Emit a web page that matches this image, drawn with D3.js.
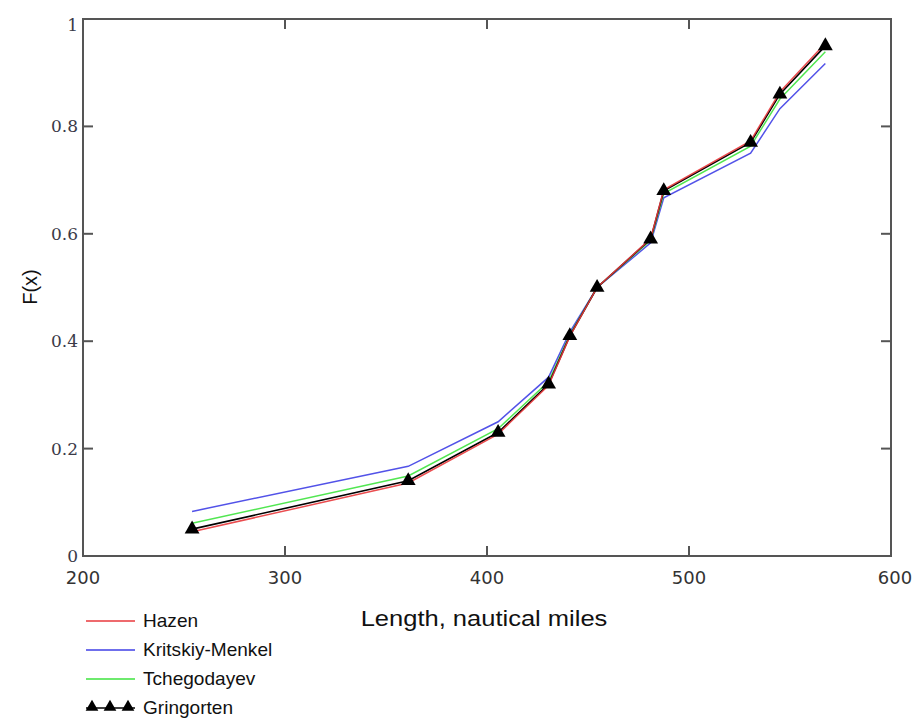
<!DOCTYPE html>
<html>
<head>
<meta charset="utf-8">
<script src="https://cdn.jsdelivr.net/npm/d3@7"></script>
<style>
  body { margin: 0; background: #fff; }
  svg { display: block; }
</style>
</head>
<body>
<svg id="chart" width="916" height="719"></svg>
<script>
"use strict";

// Lengths (nautical miles), sorted
const lengths = [254, 361, 405.5, 430.5, 441, 454.5, 481, 487.5, 530.5, 545, 567.5];

// Plotting positions
const hazen = [0.045, 0.136, 0.227, 0.318, 0.409, 0.500, 0.591, 0.682, 0.773, 0.864, 0.955];
const kritskiy = [0.083, 0.167, 0.250, 0.333, 0.417, 0.500, 0.583, 0.667, 0.750, 0.833, 0.917];
const tchegodayev = [0.061, 0.149, 0.237, 0.325, 0.412, 0.500, 0.588, 0.675, 0.763, 0.851, 0.939];
const gringorten = [0.050, 0.140, 0.230, 0.320, 0.410, 0.500, 0.590, 0.680, 0.770, 0.860, 0.950];

const xTicks = [200, 300, 400, 500, 600];
const yTicks = [0, 0.2, 0.4, 0.6, 0.8, 1];

const series = [
    { name: "Hazen", values: hazen, color: "#e8383c" },
    { name: "Kritskiy-Menkel", values: kritskiy, color: "#3f3fe6" },
    { name: "Tchegodayev", values: tchegodayev, color: "#3ee33e" },
    { name: "Gringorten", values: gringorten, color: "#000", markers: true }
];

(function () {
    const svg = d3.select("#chart");
    const left = 83, right = 891, top = 19, bottom = 556;

    const x = d3.scaleLinear().domain([200, 600]).range([left, right]);
    const y = d3.scaleLinear().domain([0, 1]).range([bottom, top]);

    const axisColor = "#555";
    const tickLen = 10;

    // frame
    svg.append("rect")
        .attr("x", left).attr("y", top)
        .attr("width", right - left).attr("height", bottom - top)
        .attr("fill", "none")
        .attr("stroke", axisColor)
        .attr("stroke-width", 2);

    // inner ticks on all four sides
    const ticks = svg.append("g").attr("stroke", axisColor).attr("stroke-width", 2);
    xTicks.slice(1, -1).forEach(t => {
        ticks.append("line").attr("x1", x(t)).attr("x2", x(t)).attr("y1", bottom).attr("y2", bottom - tickLen);
        ticks.append("line").attr("x1", x(t)).attr("x2", x(t)).attr("y1", top).attr("y2", top + tickLen);
    });
    yTicks.slice(1, -1).forEach(t => {
        ticks.append("line").attr("x1", left).attr("x2", left + tickLen).attr("y1", y(t)).attr("y2", y(t));
        ticks.append("line").attr("x1", right).attr("x2", right - tickLen).attr("y1", y(t)).attr("y2", y(t));
    });

    // x tick labels
    svg.append("g").selectAll("text")
        .data(xTicks)
        .enter()
        .append("text")
        .attr("x", d => x(d) + (d === 600 ? 4 : 0))
        .attr("y", bottom + 28)
        .attr("text-anchor", "middle")
        .style("font-family", "'DejaVu Sans', sans-serif")
        .style("font-size", "18px")
        .style("fill", "#333")
        .text(d => d);

    // y tick labels
    svg.append("g").selectAll("text")
        .data(yTicks)
        .enter()
        .append("text")
        .attr("x", left - 5)
        .attr("y", d => d === 1 ? y(d) + 12 : (d === 0 ? y(d) + 6 : y(d) + 6))
        .attr("text-anchor", "end")
        .style("font-family", "'DejaVu Serif', serif")
        .style("font-size", "17px")
        .style("fill", "#3a3a48")
        .text(d => d);

    // axis titles
    svg.append("text")
        .attr("transform", "translate(484,626) scale(1.16,1)")
        .attr("text-anchor", "middle")
        .style("font-family", "'Liberation Sans', Arial, sans-serif")
        .style("font-size", "22px")
        .style("fill", "#111")
        .text("Length, nautical miles");

    svg.append("text")
        .attr("transform", "translate(37,287) rotate(-90)")
        .attr("text-anchor", "middle")
        .style("font-family", "'Liberation Sans', Arial, sans-serif")
        .style("font-size", "20px")
        .style("fill", "#111")
        .text("F(x)");

    // lines
    const line = d3.line()
        .x((d, i) => x(lengths[i]))
        .y(d => y(d));

    const drawOrder = [series[1], series[2], series[3], series[0]];
    drawOrder.forEach(s => {
        svg.append("path")
            .datum(s.values)
            .attr("d", line)
            .attr("fill", "none")
            .attr("stroke", s.color)
            .attr("stroke-width", s.markers ? 1.6 : 1.5)
            .attr("opacity", s.markers ? 1 : 0.9);
    });

    // Gringorten triangles
    const tri = d3.symbol().type(d3.symbolTriangle).size(95);
    svg.append("g").selectAll("path")
        .data(gringorten)
        .enter()
        .append("path")
        .attr("d", tri)
        .attr("transform", (d, i) => `translate(${x(lengths[i])},${y(d)})`)
        .attr("fill", "#000");

    // legend
    const legend = svg.append("g");
    const rows = [621, 650, 679, 708];
    series.forEach((s, i) => {
        const g = legend.append("g").attr("transform", `translate(0,${rows[i]})`);
        g.append("line")
            .attr("x1", 86).attr("x2", 135)
            .attr("y1", 0).attr("y2", 0)
            .attr("stroke", s.color)
            .attr("stroke-width", 1.5);
        if (s.markers) {
            [92, 110, 128].forEach(px => {
                g.append("path")
                    .attr("d", d3.symbol().type(d3.symbolTriangle).size(70))
                    .attr("transform", `translate(${px},-1)`)
                    .attr("fill", "#000");
            });
        }
        g.append("text")
            .attr("transform", "translate(143,6) scale(1.06,1)")
            .style("font-family", "'Liberation Sans', Arial, sans-serif")
            .style("font-size", "18px")
            .style("fill", "#111")
            .text(s.name);
    });
})();
</script>
</body>
</html>
